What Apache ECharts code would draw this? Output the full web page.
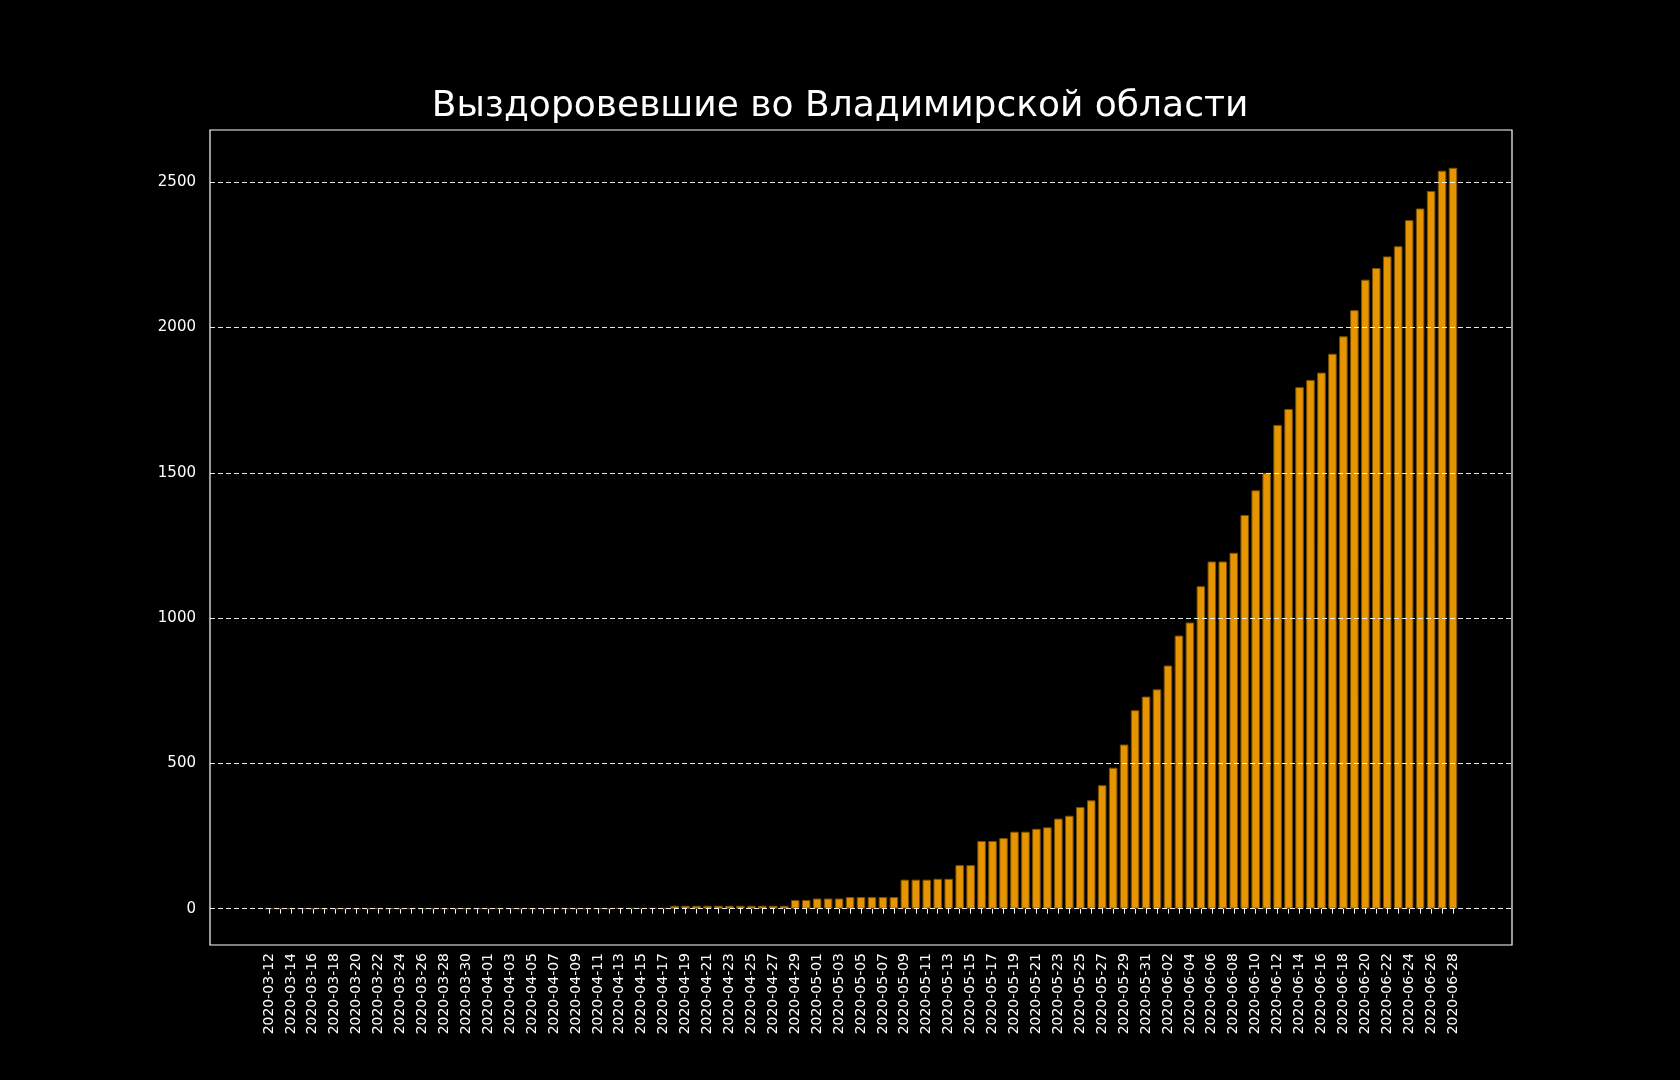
<!DOCTYPE html>
<html><head><meta charset="utf-8">
<script src="https://cdn.jsdelivr.net/npm/echarts@6/dist/echarts.min.js"></script>
<style>html,body{margin:0;background:#000}#c{width:1680px;height:1080px}</style>
</head><body><div id="c"></div>
<script>
const startDate = '2020-03-12';
const dayCount = 109;
const values = [
0,0,0,0,0,0,0,0,0,0,
0,0,0,0,0,0,0,0,0,0,
0,0,0,0,0,0,0,0,0,0,
0,0,2,2,2,2,2,10,10,10,
10,10,10,10,10,10,10,10,30,30,
35,35,35,40,40,40,40,40,100,100,
100,103,103,150,150,233,233,243,265,265,
275,280,310,320,350,373,425,485,565,683,
730,755,837,940,985,1110,1195,1195,1225,1355,
1440,1500,1665,1720,1795,1820,1845,1910,1970,2060,
2165,2205,2245,2280,2370,2410,2470,2540,2550
];
const yTicks = [0,500,1000,1500,2000,2500];
const categories = [];
{ const d0 = new Date(startDate+'T00:00:00Z');
  for (let i=0;i<dayCount;i++){ const d=new Date(d0.getTime()+i*86400000); categories.push(d.toISOString().slice(0,10)); } }

const yMin=-125, yMax=2680;
const chart = echarts.init(document.getElementById('c'));
chart.setOption({
  backgroundColor:'#000',
  animation:false,
  title:{text:'Выздоровевшие во Владимирской области',left:'center',top:84,textStyle:{color:'#fff',fontSize:36,fontWeight:'normal',fontFamily:'DejaVu Sans'}},
  grid:[
    {left:210,right:168,top:130,bottom:135,show:true,borderColor:'#fff',borderWidth:1.2,backgroundColor:'transparent'},
    {left:263.5,right:221.5,top:130,bottom:135}
  ],
  xAxis:[
    {gridIndex:0,type:'value',min:0,max:1,show:false},
    {gridIndex:1,type:'category',data:categories,axisLine:{show:false},
     axisTick:{show:true,interval:0,alignWithLabel:true,length:5,lineStyle:{color:'#fff'}},
     axisLabel:{interval:1,rotate:90,color:'#fff',fontSize:14,fontFamily:'DejaVu Sans',margin:8}}
  ],
  yAxis:[
    {gridIndex:0,type:'value',min:yMin,max:yMax,interval:125,axisLine:{show:false},splitLine:{show:false},
     axisTick:{show:false},
     axisLabel:{color:'#fff',fontSize:15,fontFamily:'DejaVu Sans',margin:14,formatter:v=>yTicks.includes(v)?String(v):''}},
    {gridIndex:1,type:'value',min:yMin,max:yMax,show:false}
  ],
  series:[
    {type:'line',xAxisIndex:0,yAxisIndex:0,data:[],silent:true,
     markLine:{symbol:'none',silent:true,label:{show:false},
       lineStyle:{color:'#fff',type:[5,3],width:1.1,opacity:0.9},
       data:yTicks.map(v=>({yAxis:v}))}},
    {type:'bar',xAxisIndex:1,yAxisIndex:1,data:values,barCategoryGap:'22%',
     itemStyle:{color:'#e69500',borderColor:'#7a4f00',borderWidth:1},z:1}
  ]
});
</script></body></html>
